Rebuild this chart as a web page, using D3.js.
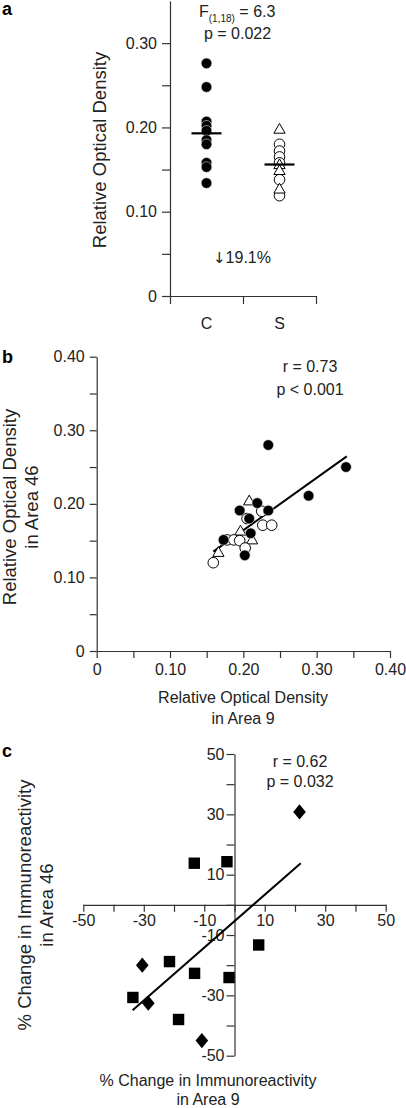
<!DOCTYPE html>
<html><head><meta charset="utf-8">
<script src="https://cdn.jsdelivr.net/npm/d3@7"></script>
<style>
body{margin:0;background:#fff;}
svg{display:block;font-family:"Liberation Sans",Arial,sans-serif;}
.axis path,.axis line{stroke:#333;stroke-width:1.2;}
.axis text{font-size:16px;fill:#222;font-family:"Liberation Sans",Arial,sans-serif;}
</style></head>
<body>
<script>
// ---------- Panel a data ----------
const catsA = ["C", "S"];
const controlVals = [0.276, 0.248, 0.207, 0.202, 0.196, 0.185, 0.180, 0.158, 0.153, 0.134];
const schizCircleVals = [0.180, 0.172, 0.165, 0.158, 0.138, 0.119];
const schizTriangleVals = [0.197, 0.155, 0.148, 0.126];
const meansA = [0.193, 0.156];
const ticksA = [0, 0.05, 0.10, 0.15, 0.20, 0.25, 0.30];
const tickLabelsA = ["0", "", "0.10", "", "0.20", "", "0.30"];

// ---------- Panel b data ----------
const bFilledX = [0.234, 0.340, 0.289, 0.219, 0.195, 0.234, 0.208, 0.210, 0.173, 0.202];
const bFilledY = [0.280, 0.250, 0.211, 0.201, 0.191, 0.191, 0.180, 0.160, 0.151, 0.130];
const bOpenX = [0.159, 0.2265, 0.2387, 0.178, 0.187, 0.195, 0.2025, 0.205, 0.225];
const bOpenY = [0.120, 0.171, 0.171, 0.151, 0.151, 0.150, 0.140, 0.180, 0.190];
const bTriX = [0.208, 0.166, 0.212, 0.196];
const bTriY = [0.203, 0.133, 0.150, 0.162];
const bFitX = [0.159, 0.341];
const bFitY = [0.135, 0.2645];
const ticksB = [0, 0.05, 0.10, 0.15, 0.20, 0.25, 0.30, 0.35, 0.40];
const tickLabelsB = ["0", "", "0.10", "", "0.20", "", "0.30", "", "0.40"];

// ---------- Panel c data ----------
const cDiamondX = [21.5, -30.5, -28.5, -10.8];
const cDiamondY = [30.8, -20.0, -32.6, -45.0];
const cSquareX = [-13.3, -2.5, 8.0, -21.5, -13.2, -1.8, -33.6, -18.5];
const cSquareY = [13.8, 14.3, -13.3, -18.8, -22.7, -24.1, -30.7, -38.0];
const cFitX = [-33.7, 21.9];
const cFitY = [-34.9, 13.8];
const ticksC = [-50, -40, -30, -20, -10, 0, 10, 20, 30, 40, 50];
const tickLabelsCX = ["-50", "", "-30", "", "-10", "", "10", "", "30", "", "50"];
const tickLabelsCY = ["-50", "", "-30", "", "-10", "", "10", "", "30", "", "50"];

const W = 406, H = 1108;
const svg = d3.select("body").append("svg").attr("width", W).attr("height", H);

function lbl(arr, ticks){ return (d) => arr[ticks.indexOf(d)] ?? ""; }
function styleAxis(g){ g.attr("class","axis"); g.select(".domain").attr("stroke","#333"); }

// ================= Panel a =================
const xa = d3.scaleLinear().domain([0, 2]).range([170, 316]);
const ya = d3.scaleLinear().domain([0, 0.35]).range([296, 1]);
{
  const g = svg.append("g");
  const yax = g.append("g").attr("transform", `translate(${xa(0)},0)`)
    .call(d3.axisLeft(ya).tickValues(ticksA).tickFormat(lbl(tickLabelsA, ticksA)).tickSize(8).tickPadding(5).tickSizeOuter(0));
  styleAxis(yax);
  const xax = g.append("g").attr("transform", `translate(0,${ya(0)})`)
    .call(d3.axisBottom(xa).tickValues([0,1,2]).tickFormat("").tickSize(8).tickSizeOuter(0));
  styleAxis(xax);
  g.selectAll(".cat").data(catsA).join("text")
    .attr("x", (d,i) => xa(i + 0.5)).attr("y", 329).attr("text-anchor","middle")
    .attr("font-size", 16).attr("fill","#222").text(d => d);

  g.selectAll(".ca").data(controlVals).join("circle")
    .attr("cx", xa(0.5)).attr("cy", d => ya(d)).attr("r", 5.3)
    .attr("fill","#000").attr("stroke","#ddd").attr("stroke-width",0.6);
  g.selectAll(".sc").data(schizCircleVals).join("circle")
    .attr("cx", xa(1.5)).attr("cy", d => ya(d)).attr("r", 5.3)
    .attr("fill","#fff").attr("stroke","#000").attr("stroke-width",1);
  g.selectAll(".st").data(schizTriangleVals).join("path")
    .attr("transform", d => `translate(${xa(1.5)},${ya(d)})`)
    .attr("d", d3.symbol(d3.symbolTriangle, 55)())
    .attr("fill","#fff").attr("stroke","#000").attr("stroke-width",1);
  g.selectAll(".mean").data(meansA).join("line")
    .attr("x1", (d,i) => xa(i + 0.5) - 15).attr("x2", (d,i) => xa(i + 0.5) + 15)
    .attr("y1", d => ya(d)).attr("y2", d => ya(d))
    .attr("stroke","#000").attr("stroke-width",2.2);

  g.append("text").attr("x", 199).attr("y", 17).attr("font-size",16).attr("fill","#222")
    .call(t => { t.append("tspan").text("F");
      t.append("tspan").attr("font-size",10).attr("dy",5).text("(1,18)");
      t.append("tspan").attr("dy",-5).text(" = 6.3"); });
  g.append("text").attr("x", 237.5).attr("y", 39).attr("text-anchor","middle").attr("font-size",16).attr("fill","#222").text("p = 0.022");
  g.append("text").attr("x", 242).attr("y", 263).attr("text-anchor","middle").attr("font-size",16).attr("fill","#222")
    .call(t => { t.append("tspan").attr("font-family","DejaVu Sans").attr("font-size",15).text("↓");
      t.append("tspan").text("19.1%"); });
  g.append("text").attr("transform","translate(106,150) rotate(-90)").attr("text-anchor","middle")
    .attr("font-size",18.5).attr("fill","#222").text("Relative Optical Density");
  g.append("text").attr("x",2).attr("y",15).attr("font-size",18).attr("font-weight","bold").text("a");
}

// ================= Panel b =================
const xb = d3.scaleLinear().domain([0, 0.4]).range([96.7, 390]);
const yb = d3.scaleLinear().domain([0, 0.4]).range([651, 356.7]);
{
  const g = svg.append("g");
  const yax = g.append("g").attr("transform", `translate(${xb(0)},0)`)
    .call(d3.axisLeft(yb).tickValues(ticksB).tickFormat(lbl(tickLabelsB, ticksB)).tickSize(7).tickPadding(5).tickSizeOuter(0));
  styleAxis(yax);
  const xax = g.append("g").attr("transform", `translate(0,${yb(0)})`)
    .call(d3.axisBottom(xb).tickValues(ticksB).tickFormat(lbl(tickLabelsB, ticksB)).tickSize(7).tickPadding(6).tickSizeOuter(0));
  styleAxis(xax);

  g.append("line").attr("x1", xb(bFitX[0])).attr("y1", yb(bFitY[0]))
    .attr("x2", xb(bFitX[1])).attr("y2", yb(bFitY[1])).attr("stroke","#000").attr("stroke-width",2);

  g.selectAll(".bt").data(bTriX).join("path")
    .attr("transform", (d,i) => `translate(${xb(d)},${yb(bTriY[i])})`)
    .attr("d", d3.symbol(d3.symbolTriangle, 55)())
    .attr("fill","#fff").attr("stroke","#000").attr("stroke-width",1);
  g.selectAll(".bo").data(bOpenX).join("circle")
    .attr("cx", d => xb(d)).attr("cy", (d,i) => yb(bOpenY[i])).attr("r", 5.3)
    .attr("fill","#fff").attr("stroke","#000").attr("stroke-width",1);
  g.selectAll(".bf").data(bFilledX).join("circle")
    .attr("cx", d => xb(d)).attr("cy", (d,i) => yb(bFilledY[i])).attr("r", 5.3)
    .attr("fill","#000").attr("stroke","#ddd").attr("stroke-width",0.6);

  g.append("text").attr("x",310).attr("y",372).attr("text-anchor","middle").attr("font-size",16).attr("fill","#222").text("r = 0.73");
  g.append("text").attr("x",310).attr("y",395).attr("text-anchor","middle").attr("font-size",16).attr("fill","#222").text("p < 0.001");
  g.append("text").attr("x",243).attr("y",703).attr("text-anchor","middle").attr("font-size",16).attr("fill","#222").text("Relative Optical Density");
  g.append("text").attr("x",243).attr("y",724).attr("text-anchor","middle").attr("font-size",16).attr("fill","#222").text("in Area 9");
  g.append("text").attr("transform","translate(16,507) rotate(-90)").attr("text-anchor","middle")
    .attr("font-size",18.5).attr("fill","#222").text("Relative Optical Density");
  g.append("text").attr("transform","translate(38,507) rotate(-90)").attr("text-anchor","middle")
    .attr("font-size",18.5).attr("fill","#222").text("in Area 46");
  g.append("text").attr("x",2).attr("y",363).attr("font-size",18).attr("font-weight","bold").text("b");
}

// ================= Panel c =================
const xc = d3.scaleLinear().domain([-50, 50]).range([83.3, 385.7]);
const yc = d3.scaleLinear().domain([-50, 50]).range([1055.7, 754]);
{
  const g = svg.append("g");
  const yax = g.append("g").attr("transform", `translate(${xc(0)},0)`)
    .call(d3.axisLeft(yc).tickValues(ticksC).tickFormat(lbl(tickLabelsCY, ticksC)).tickSize(8).tickPadding(2).tickSizeOuter(0));
  styleAxis(yax);
  yax.selectAll("text").attr("font-size",17);
  const xax = g.append("g").attr("transform", `translate(0,${yc(0)})`)
    .call(d3.axisBottom(xc).tickValues(ticksC).tickFormat(lbl(tickLabelsCX, ticksC)).tickSize(7).tickPadding(3).tickSizeOuter(0));
  styleAxis(xax);
  xax.selectAll("text").attr("font-size",17);

  g.append("line").attr("x1", xc(cFitX[0])).attr("y1", yc(cFitY[0]))
    .attr("x2", xc(cFitX[1])).attr("y2", yc(cFitY[1])).attr("stroke","#000").attr("stroke-width",2);

  g.selectAll(".cs").data(cSquareX).join("rect")
    .attr("x", d => xc(d) - 5.7).attr("y", (d,i) => yc(cSquareY[i]) - 5.7)
    .attr("width", 11.4).attr("height", 11.4).attr("fill","#000");
  g.selectAll(".cd").data(cDiamondX).join("path")
    .attr("transform", (d,i) => `translate(${xc(d)},${yc(cDiamondY[i])})`)
    .attr("d", "M0,-7.6L6.3,0L0,7.6L-6.3,0Z").attr("fill","#000");

  g.append("text").attr("x",300).attr("y",767).attr("text-anchor","middle").attr("font-size",16).attr("fill","#222").text("r = 0.62");
  g.append("text").attr("x",300).attr("y",787).attr("text-anchor","middle").attr("font-size",16).attr("fill","#222").text("p = 0.032");
  g.append("text").attr("x",208).attr("y",1086).attr("text-anchor","middle").attr("font-size",16).attr("fill","#222").text("% Change in Immunoreactivity");
  g.append("text").attr("x",208).attr("y",1105).attr("text-anchor","middle").attr("font-size",16).attr("fill","#222").text("in Area 9");
  g.append("text").attr("transform","translate(31,905) rotate(-90)").attr("text-anchor","middle")
    .attr("font-size",18.5).attr("fill","#222").text("% Change in Immunoreactivity");
  g.append("text").attr("transform","translate(53,905) rotate(-90)").attr("text-anchor","middle")
    .attr("font-size",18.5).attr("fill","#222").text("in Area 46");
  g.append("text").attr("x",2).attr("y",757).attr("font-size",18).attr("font-weight","bold").text("c");
}
</script>
</body></html>
